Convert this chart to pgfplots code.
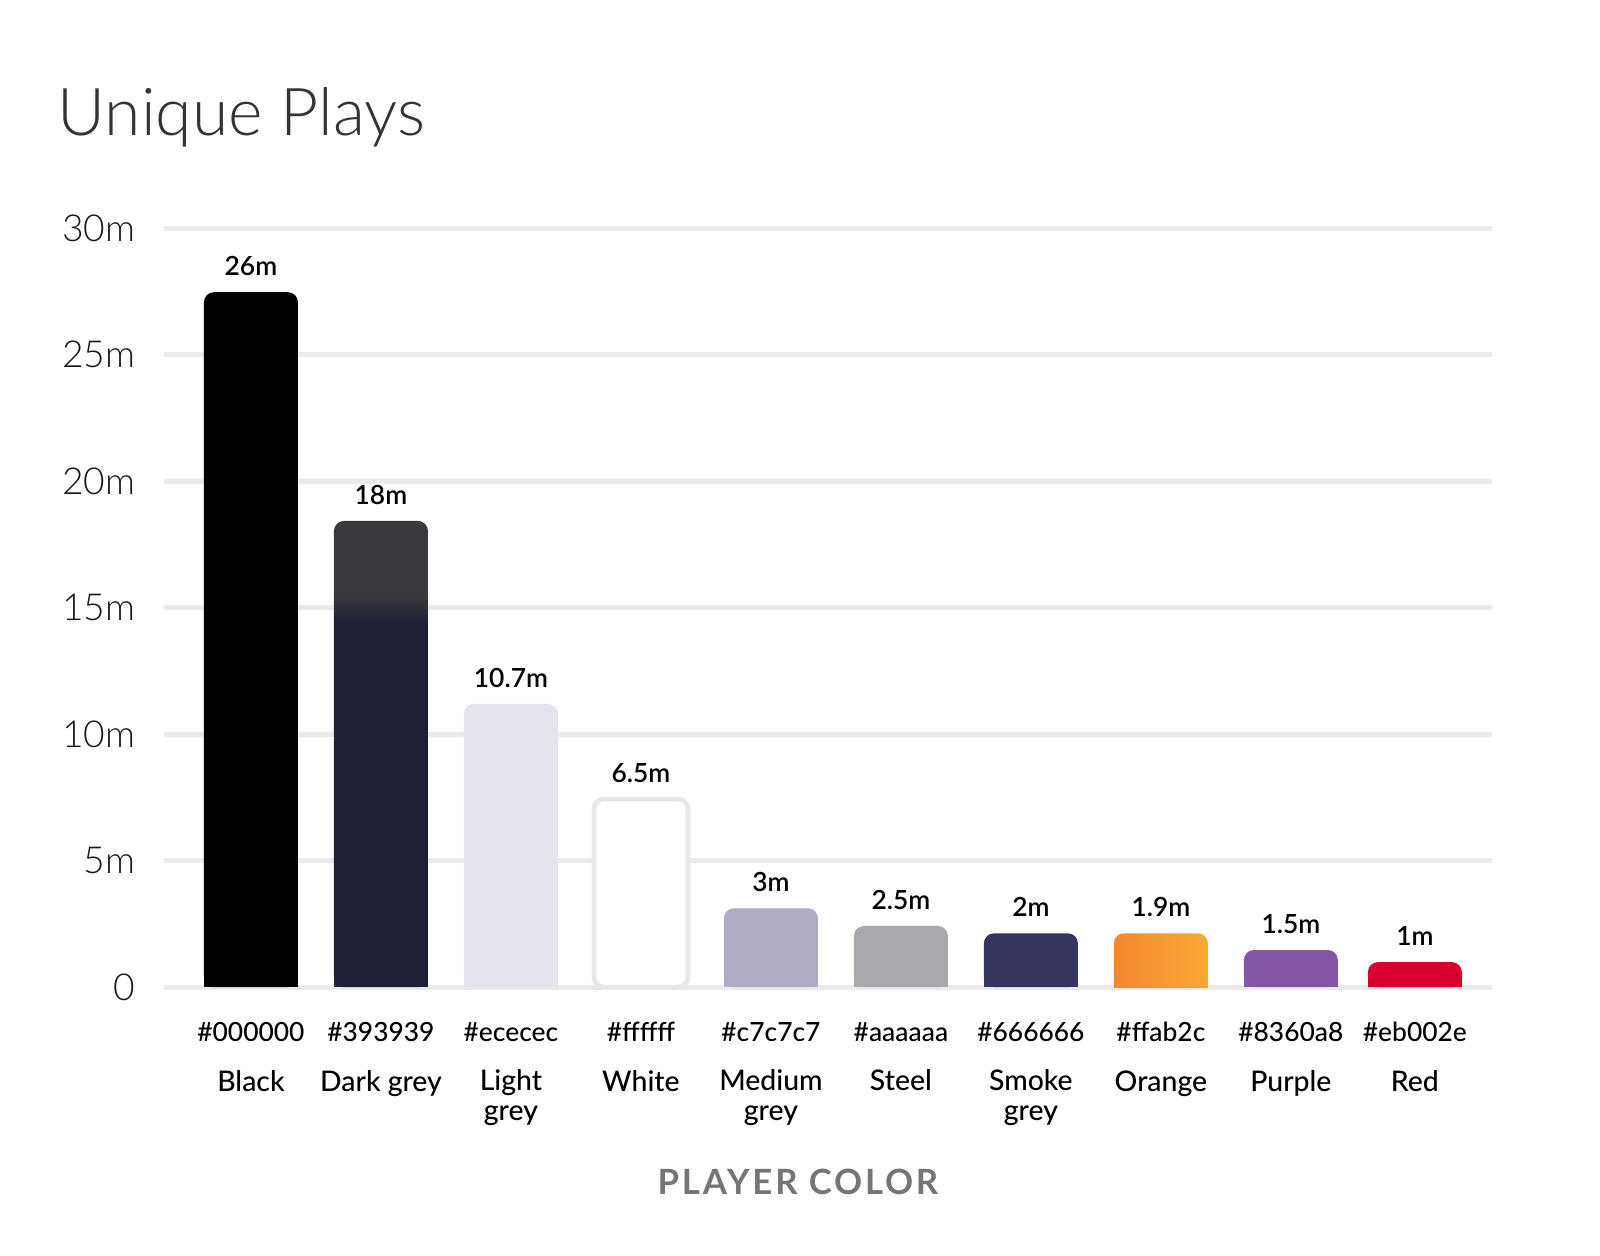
\documentclass[border=0pt]{standalone}
\usepackage{fontspec}
\setmainfont{Lato}
\newfontfamily\lightfont{Lato Light}
\newfontfamily\medfont{Lato Medium}
\newfontfamily\semifont{Lato Semibold}
\usepackage{pgfplots}
\pgfplotsset{compat=1.18}

\definecolor{gridc}{HTML}{EBE9EC}
\definecolor{titlec}{HTML}{333333}
\definecolor{labc}{HTML}{757575}
\definecolor{cblack}{HTML}{000000}
\definecolor{cdark}{HTML}{1F1F36}
\definecolor{cdarktop}{HTML}{3B393D}
\definecolor{clight}{HTML}{E5E3EB}
\definecolor{cwhite}{HTML}{E8E6EA}
\definecolor{cmed}{HTML}{ADACC2}
\definecolor{csteel}{HTML}{A9A8AD}
\definecolor{csmoke}{HTML}{36355F}
\definecolor{corange}{HTML}{F7A933}
\definecolor{corange2}{HTML}{F5862F}
\definecolor{cpurple}{HTML}{8457A6}
\definecolor{cred}{HTML}{D9002E}

% dark grey bar: navy body, grey cap (path spans 25bp..75bp)
\pgfdeclareverticalshading{darkbar}{100bp}{color(0bp)=(cdark); color(64bp)=(cdark); color(67bp)=(cdarktop); color(100bp)=(cdarktop)}

% hex code line of a tick label
\newcommand\hx[1]{{\fontsize{6.6}{7}\selectfont\##1}}

\pgfplotsset{
  % bars with rounded tops: the main bar carries the label,
  % the base copy squares off the bottom corners
  topbar/.style={rounded corners=2.5pt, nodes near coords},
  basebar/.style={sharp corners, y filter/.expression={min(y,0.5)}},
}

\begin{document}
\begin{tikzpicture}
\path[use as bounding box] (-41pt,-67.2pt) rectangle (359pt,246.8pt);
\begin{axis}[
  scale only axis,
  width=331.9pt, height=189.75pt,
  at={(0,0)}, anchor=south west,
  xmin=-0.669, xmax=9.544,
  ymin=0, ymax=30,
  ybar, bar width=0.723,
  axis line style={draw=none},
  major tick length=0pt,
  ymajorgrids,
  grid style={gridc, line width=1.25pt},
  ytick={0,5,10,15,20,25,30},
  yticklabels={0,5m,10m,15m,20m,25m,30m},
  yticklabel style={font=\lightfont\fontsize{9.3}{10}\selectfont, text=black!90, inner sep=0pt, xshift=-7pt},
  xtick={0,1,2,3,4,5,6,7,8,8.954},
  xticklabels={
    {\hx{000000}\\[5pt]Black},
    {\hx{393939}\\[5pt]Dark grey},
    {\hx{ececec}\\[5pt]Light\\grey},
    {\hx{ffffff}\\[5pt]White},
    {\hx{c7c7c7}\\[5pt]Medium\\grey},
    {\hx{aaaaaa}\\[5pt]Steel},
    {\hx{666666}\\[5pt]Smoke\\grey},
    {\hx{ffab2c}\\[5pt]Orange},
    {\hx{8360a8}\\[5pt]Purple},
    {\hx{eb002e}\\[5pt]Red}},
  xticklabel style={align=center, anchor=north, inner sep=0pt, yshift=-8.6pt,
    font=\medfont\fontsize{7.1}{7.4}\selectfont, text=black},
  point meta=explicit symbolic,
  every node near coord/.style={font=\semifont\fontsize{6.6}{7}\selectfont, anchor=base, yshift=4.2pt, inner sep=0pt, text=black},
  every axis plot/.append style={bar shift=0pt, draw=none},
  clip=false,
  title={Unique Plays},
  title style={at={(axis description cs:0,1)}, anchor=base west, xshift=-26.8pt, yshift=17.15pt,
    inner sep=0pt, font=\lightfont\fontsize{16.5}{18}\selectfont, text=titlec},
  xlabel={PLAYER COLOR},
  xlabel style={at={(axis description cs:0.4775,0)}, anchor=base, yshift=-51.75pt, inner sep=0pt,
    font=\bfseries\fontsize{8.7}{10}\selectfont\addfontfeatures{LetterSpace=8}, text=labc},
]
\addplot[topbar, fill=cblack] coordinates {(0,27.47) [26m]};
\addplot[basebar, fill=cblack] coordinates {(0,27.47) [26m]};
\addplot[topbar, shade, shading=darkbar] coordinates {(1,18.43) [18m]};
\addplot[basebar, fill=cdark] coordinates {(1,18.43) [18m]};
\addplot[topbar, fill=clight] coordinates {(2,11.2) [10.7m]};
\addplot[basebar, fill=clight] coordinates {(2,11.2) [10.7m]};
\addplot[topbar, fill=white, draw=cwhite, line width=1.2pt] coordinates {(3,7.44) [6.5m]};
\addplot[topbar, fill=cmed] coordinates {(4,3.12) [3m]};
\addplot[basebar, fill=cmed] coordinates {(4,3.12) [3m]};
\addplot[topbar, fill=csteel] coordinates {(5,2.42) [2.5m]};
\addplot[basebar, fill=csteel] coordinates {(5,2.42) [2.5m]};
\addplot[topbar, fill=csmoke] coordinates {(6,2.13) [2m]};
\addplot[basebar, fill=csmoke] coordinates {(6,2.13) [2m]};
\addplot[topbar, left color=corange2, right color=corange] coordinates {(7,2.13) [1.9m]};
\addplot[basebar, left color=corange2, right color=corange] coordinates {(7,2.13) [1.9m]};
\addplot[topbar, fill=cpurple] coordinates {(8,1.47) [1.5m]};
\addplot[basebar, fill=cpurple] coordinates {(8,1.47) [1.5m]};
\addplot[topbar, fill=cred] coordinates {(8.954,0.99) [1m]};
\addplot[basebar, fill=cred] coordinates {(8.954,0.99) [1m]};
\end{axis}
\end{tikzpicture}
\end{document}
